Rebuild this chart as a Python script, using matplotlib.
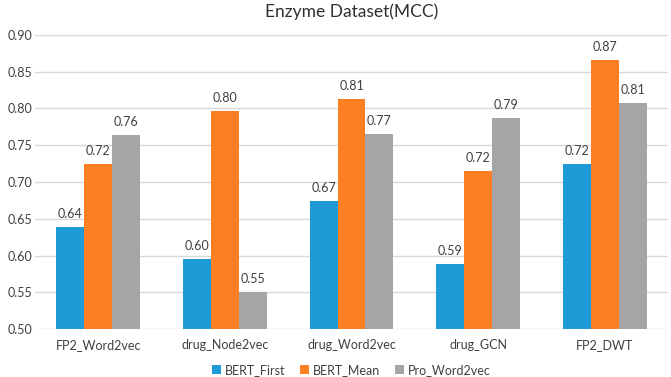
import numpy as np
import matplotlib.pyplot as plt

plt.rcParams['font.family'] = ['Lato', 'DejaVu Sans']

methods = ["FP2_Word2vec", "drug_Node2vec", "drug_Word2vec", "drug_GCN", "FP2_DWT"]
bert_first = [0.6395, 0.5955, 0.6747, 0.5887, 0.7240]
bert_mean = [0.7240, 0.7967, 0.8122, 0.7155, 0.8655]
pro_word2vec = [0.7636, 0.5504, 0.7655, 0.7868, 0.8076]

series = [("BERT_First", bert_first, "#1E9AD6"),
          ("BERT_Mean", bert_mean, "#FD7F24"),
          ("Pro_Word2vec", pro_word2vec, "#A5A5A5")]

fig = plt.figure(figsize=(6.71, 3.77), dpi=100)
ax = fig.add_axes([0.0522, 0.1265, 0.9433, 0.7815])

x = np.arange(len(methods))
w = 0.221
for i, (name, vals, col) in enumerate(series):
    bars = ax.bar(x + (i - 1) * w, vals, w, color=col, label=name, zorder=2)
    for b, v in zip(bars, vals):
        ax.annotate("%.2f" % v, (b.get_x() + b.get_width() / 2, v),
                    xytext=(0, 5), textcoords="offset points",
                    ha="center", va="bottom", fontsize=9, color="#404040")

ax.set_ylim(0.50, 0.90)
ax.set_xlim(-0.5, len(methods) - 0.5)
ax.set_yticks(np.arange(0.50, 0.901, 0.05))
ax.set_yticklabels(["%.2f" % t for t in np.arange(0.50, 0.901, 0.05)])
ax.set_xticks(x)
ax.set_xticklabels(methods)
ax.tick_params(axis="both", length=0, labelsize=9, labelcolor="#404040")
ax.tick_params(axis="y", pad=2)
ax.tick_params(axis="x", pad=7)
ax.grid(axis="y", color="#D9D9D9", linewidth=1, zorder=0)
for s in ax.spines.values():
    s.set_visible(False)

ax.set_title("Enzyme Dataset(MCC)", fontsize=12.5, color="#303030", pad=13)
ax.legend(loc="upper center", bbox_to_anchor=(0.5, -0.11), ncol=3, frameon=False,
          fontsize=9, handlelength=0.7, handleheight=0.7, handletextpad=0.3,
          columnspacing=1.2, labelcolor="#404040", borderaxespad=0, borderpad=0.2)

fig.savefig("out.png", dpi=100)
